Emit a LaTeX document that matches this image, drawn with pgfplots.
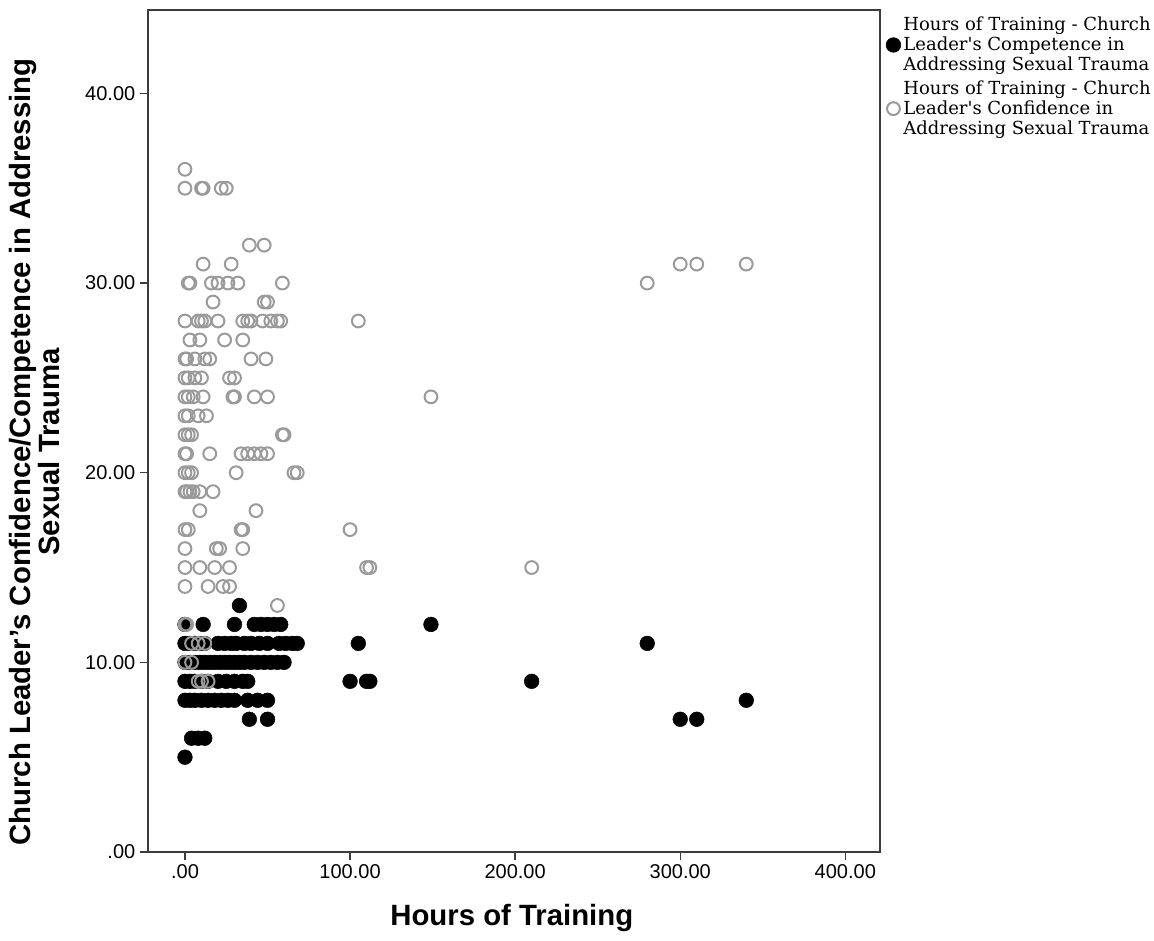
\documentclass[border=0pt]{standalone}
\usepackage{fontspec}
\setmainfont{Liberation Sans}
\newfontfamily\legfont{DejaVu Serif}
\usepackage{pgfplots}
\pgfplotsset{compat=1.18}
\definecolor{axisgray}{HTML}{3C3C3C}
\definecolor{ringgray}{HTML}{9A9A9A}

\begin{document}
\begin{tikzpicture}
\useasboundingbox (-111pt,-66pt) rectangle (754.5pt,639pt);
\begin{axis}[
  at={(0,0)}, anchor=south west,
  width=549pt, height=631.5pt, scale only axis,
  xmin=-22.4, xmax=421, ymin=0, ymax=44.4,
  xtick={0,100,200,300,400}, xticklabels={.00,100.00,200.00,300.00,400.00},
  ytick={0,10,20,30,40}, yticklabels={.00,10.00,20.00,30.00,40.00},
  tick align=outside, xtick pos=bottom, ytick pos=left,
  major tick length=6pt,
  axis line style={axisgray, line width=1.1pt},
  every tick/.style={axisgray, line width=1.1pt},
  tick label style={font=\fontsize{15}{16}\selectfont},
  xlabel={Hours of Training},
  ylabel={Church Leader's Confidence/Competence in Addressing\\Sexual Trauma},
  label style={font=\bfseries\fontsize{22}{19}\selectfont},
  xlabel style={at={(axis description cs:0.497,-0.078)}, anchor=center},
  ylabel style={at={(axis description cs:-0.155,0.475)}, anchor=center, align=center},
  legend style={at={(axis description cs:1.008,0.995)}, anchor=north west,
    draw=none, fill=none, font=\legfont\fontsize{13.5}{15}\selectfont,
    cells={align=left, anchor=west}, row sep=2pt, inner sep=0pt,
    /tikz/every even column/.append style={column sep=2pt}},
  legend image code/.code={\draw[#1] plot coordinates {(0pt,0pt)};},
]
% competence (black)
\addplot[only marks, mark=*, mark size=5.5pt, mark options={fill=black, draw=black}] coordinates {
(0,5)
(4,6) (8,6) (12,6)
(39,7) (50,7) (300,7) (310,7)
(0,8) (3,8) (6,8) (10,8) (14,8) (18,8) (22,8) (26,8) (30,8) (38,8) (44,8) (50,8) (340,8)
(0,9) (3,9) (6,9) (10,9) (14,9) (20,9) (25,9) (30,9) (35,9) (38,9) (100,9) (110,9) (112,9) (210,9)
(0,10) (3,10) (6,10) (9,10) (12,10) (15,10) (18,10) (21,10) (24,10) (27,10) (30,10) (33,10) (36,10) (40,10) (44,10) (48,10) (52,10) (56,10) (60,10)
(0,11) (3,11) (6,11) (9,11) (12,11) (20,11) (24,11) (28,11) (31,11) (36,11) (40,11) (45,11) (50,11) (57,11) (61,11) (65,11) (68,11) (105,11) (280,11)
(0,12) (11,12) (30,12) (42,12) (46,12) (50,12) (54,12) (58,12) (149,12)
(33,13)
};
% confidence (grey rings)
\addplot[only marks, mark=o, mark size=4.8pt, mark options={draw=ringgray, line width=1.5pt}] coordinates {
(0,36)
(0,35) (10,35) (11,35) (22,35) (25,35)
(39,32) (48,32)
(11,31) (28,31) (300,31) (310,31) (340,31)
(2,30) (3,30) (16,30) (20,30) (26,30) (32,30) (59,30) (280,30)
(17,29) (48,29) (50,29)
(0,28) (8,28) (10,28) (12,28) (20,28) (35,28) (38,28) (40,28) (47,28) (52,28) (56,28) (58,28) (105,28)
(3,27) (9,27) (24,27) (35,27)
(0,26) (1,26) (6,26) (12,26) (15,26) (40,26) (49,26)
(0,25) (2,25) (6,25) (10,25) (27,25) (30,25)
(0,24) (2,24) (5,24) (11,24) (29,24) (30,24) (42,24) (50,24) (149,24)
(0,23) (2,23) (8,23) (13,23)
(0,22) (2,22) (4,22) (59,22) (60,22)
(0,21) (1,21) (15,21) (34,21) (38,21) (42,21) (46,21) (50,21)
(0,20) (2,20) (4,20) (31,20) (66,20) (68,20)
(0,19) (1,19) (3,19) (5,19) (9,19) (17,19)
(9,18) (43,18)
(0,17) (2,17) (34,17) (35,17) (100,17)
(0,16) (19,16) (21,16) (35,16)
(0,15) (9,15) (18,15) (27,15) (110,15) (112,15) (210,15)
(0,14) (14,14) (23,14) (27,14)
(56,13)
(0,12) (1,12)
(4,11) (8,11) (12,11)
(0,10) (4,10)
(8,9) (10,9) (14,9)
};
\legend{Hours of Training - Church\\Leader's Competence in\\Addressing Sexual Trauma,
        Hours of Training - Church\\Leader's Confidence in\\Addressing Sexual Trauma}
\end{axis}
\end{tikzpicture}
\end{document}
